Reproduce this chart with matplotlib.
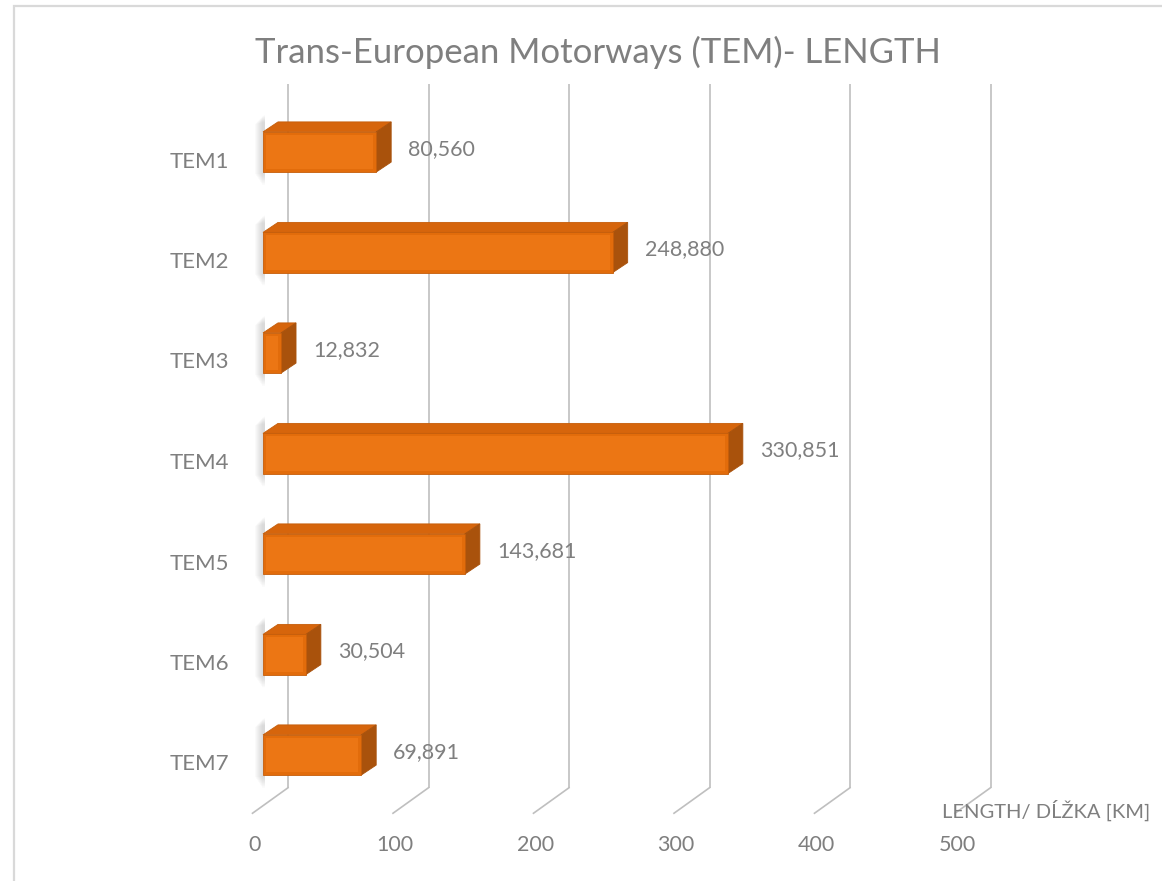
import matplotlib
matplotlib.use("Agg")
import matplotlib.pyplot as plt
from matplotlib.patches import Polygon, Rectangle

# ---- data -------------------------------------------------------------
categories = ["TEM1", "TEM2", "TEM3", "TEM4", "TEM5", "TEM6", "TEM7"]
lengths_km = [80.560, 248.880, 12.832, 330.851, 143.681, 30.504, 69.891]
value_labels = ["80,560", "248,880", "12,832", "330,851", "143,681", "30,504", "69,891"]
x_ticks = [0, 100, 200, 300, 400, 500]
x_tick_labels = ["0", "100", "200", "300", "400", "500"]
title = "Trans-European Motorways (TEM)- LENGTH"
axis_title = "LENGTH/ DĹŽKA [KM]"

# ---- style ------------------------------------------------------------
FONT = ["Lato", "DejaVu Sans"]
TEXT = "#7f7f7f"
GRID = "#bfbfbf"
FRONT = "#e26c0b"
FRONT_IN = "#ec7614"
TOP = "#d6650c"
SIDE = "#a9520c"
EDGE = "#c55d0a"

W, H = 1162, 881
fig = plt.figure(figsize=(W / 100, H / 100), dpi=100)
fig.patch.set_facecolor("white")

# chart frame (only its left and top edges fall inside the image)
fig.patches.append(Rectangle((14 / W, -0.2), 1.2, 1.2 - 6 / H, transform=fig.transFigure,
                             fill=False, edgecolor="#d9d9d9", linewidth=1.6))

ax = fig.add_axes([263 / W, 1 - 855.5 / H, 702.5 / W, 804 / H])
ax.set_xlim(0, 500)
ax.set_ylim(7, -1)
ax.axis("off")
fig.canvas.draw()


def offset(dx_px, dy_px):
    """Pixel offset (right, up) expressed in data units."""
    inv = ax.transData.inverted()
    x0, y0 = ax.transData.transform((0, 0))
    x1, y1 = inv.transform((x0 + dx_px, y0 + dy_px))
    return x1, y1


back_dx, back_dy = offset(25, 17.5)      # back wall
front_dx, front_dy = offset(-10.5, -8)   # front edge of floor
depth_dx, depth_dy = offset(15, 10)      # bar depth
y_lo, y_hi = -0.5, len(categories) - 0.5

# gridlines: back wall verticals + floor diagonals
for t in x_ticks:
    ax.plot([t + back_dx, t + back_dx], [y_lo + back_dy, y_hi + back_dy],
            color=GRID, lw=1.2, zorder=1, solid_capstyle="butt", clip_on=False)
    ax.plot([t + back_dx, t + front_dx], [y_hi + back_dy, y_hi + front_dy],
            color=GRID, lw=1.2, zorder=1, clip_on=False)

# tick labels along the front edge of the floor
lab_dx, lab_dy = offset(2, -32)
for t, lab in zip(x_ticks, x_tick_labels):
    ax.text(t + front_dx + lab_dx, y_hi + front_dy + lab_dy, lab, ha="center", va="center",
            fontsize=15.5, color=TEXT, family=FONT, clip_on=False)

ax.text(500 + front_dx + offset(-13, 0)[0], y_hi + front_dy + offset(0, 3)[1], axis_title,
        ha="left", va="center", fontsize=14.5, color=TEXT, family=FONT, clip_on=False)

# bars
half = 0.2
in_dx, in_dy = offset(3, 3)
for i, (v, lab) in enumerate(zip(lengths_km, value_labels)):
    top, bot = i - half, i + half
    # soft shadow at the left of the bar, fading outwards and downwards
    for k in range(1, 9):
        sx = offset(-k, 0)[0]
        up = offset(0, 16 - k)[1]
        down = offset(0, -14 + k * 1.5)[1]
        ax.add_patch(Polygon([(sx, top + up), (offset(2, 0)[0], top + up + offset(0, 2)[1]),
                              (offset(2, 0)[0], bot + down), (sx, bot + down)],
                             closed=True, facecolor="#8c8c8c", alpha=0.045, lw=0,
                             zorder=2, clip_on=False))
    # top face
    ax.add_patch(Polygon([(0, top), (v, top), (v + depth_dx, top + depth_dy),
                          (depth_dx, top + depth_dy)], closed=True,
                         facecolor=TOP, edgecolor=EDGE, lw=0.6, zorder=3, clip_on=False))
    # side face
    ax.add_patch(Polygon([(v, top), (v + depth_dx, top + depth_dy),
                          (v + depth_dx, bot + depth_dy), (v, bot)], closed=True,
                         facecolor=SIDE, edgecolor=SIDE, lw=0.6, zorder=3, clip_on=False))
    # front face with a light bevel
    ax.add_patch(Rectangle((0, top), v, bot - top, facecolor=FRONT,
                           edgecolor=EDGE, lw=0.6, zorder=4, clip_on=False))
    if v > 3 * in_dx:
        ax.add_patch(Rectangle((in_dx, top - in_dy), v - 2 * in_dx, (bot - top) + 2 * in_dy,
                               facecolor=FRONT_IN, lw=0, zorder=4, clip_on=False))
    # value label
    ax.text(v + offset(32, 0)[0], i + offset(0, 3)[1], lab, ha="left", va="center",
            fontsize=15.5, color=TEXT, family=FONT, zorder=5, clip_on=False)
    # category label
    ax.text(offset(-64, 0)[0], i + offset(0, -9.5)[1], categories[i], ha="center",
            va="center", fontsize=16, color=TEXT, family=FONT, clip_on=False)

fig.text(598 / W, 1 - 52 / H, title, ha="center", va="center", fontsize=25,
         color=TEXT, family=FONT)

fig.savefig("out.png", dpi=100, facecolor="white")
